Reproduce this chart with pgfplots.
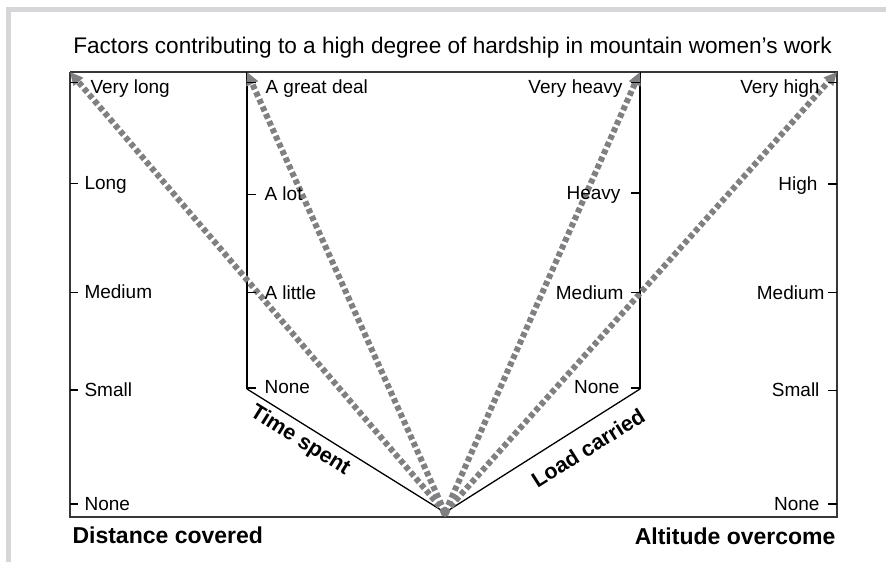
\documentclass[border=0pt]{standalone}
\usepackage{pgfplots}
\pgfplotsset{compat=1.18}
\usepackage{fontspec}
\setmainfont{Liberation Sans}
\usetikzlibrary{arrows.meta}
\definecolor{arrowgray}{RGB}{128,128,130}
\definecolor{framegray}{RGB}{214,214,216}
\definecolor{boxgray}{RGB}{55,55,55}
\begin{document}
\begin{tikzpicture}
\useasboundingbox (0,0) rectangle (886pt,565pt);
\begin{axis}[
  at={(0,0)}, anchor=south west,
  scale only axis, width=886pt, height=565pt,
  xmin=0, xmax=886, ymin=0, ymax=565, y dir=reverse,
  hide axis, clip=false,
  every node/.style={inner sep=0pt, outer sep=0pt},
]
% light frame
\addplot[framegray, line width=5pt, line join=miter] coordinates {(8.5,562) (8.5,9.5) (886,9.5)};
% outer box
\addplot[boxgray, line width=1.8pt, line join=miter] coordinates {(70,72) (837,72) (837,517) (70,517) (70,72)};
% inner axes
\addplot[black, line width=2.5pt] coordinates {(247,72) (247,389)};
\addplot[black, line width=2.5pt] coordinates {(640,72) (640,389)};
% slanted lines
\addplot[black, line width=1.3pt] coordinates {(247,389) (445,512.5) (640,389)};
% ticks
\addplot[only marks, mark=-, mark size=3.8pt, mark options={line width=1.9pt, black}] coordinates {(73.8,82.5) (73.8,183.5) (73.8,292.5) (73.8,390) (73.8,504)};
\addplot[only marks, mark=-, mark size=4.5pt, mark options={line width=1.9pt, black}] coordinates {(251.5,82.5) (251.5,194.5) (251.5,292.5) (251.5,388)};
\addplot[only marks, mark=-, mark size=4.5pt, mark options={line width=1.9pt, black}] coordinates {(635.5,82.5) (635.5,193) (635.5,292.5) (635.5,388)};
\addplot[only marks, mark=-, mark size=4.5pt, mark options={line width=1.9pt, black}] coordinates {(832.5,82.5) (832.5,184) (832.5,292.5) (832.5,390.5) (832.5,504)};
% dashed arrows
\addplot[arrowgray, line width=6pt, dash pattern=on 5pt off 3pt, -{Triangle[length=13pt,width=12pt]}] coordinates {(445,512.5) (70,72)};
\addplot[arrowgray, line width=6pt, dash pattern=on 5pt off 3pt, -{Triangle[length=13pt,width=12pt]}] coordinates {(445,512.5) (247,72)};
\addplot[arrowgray, line width=6pt, dash pattern=on 5pt off 3pt, -{Triangle[length=13pt,width=12pt]}] coordinates {(445,512.5) (640,72)};
\addplot[arrowgray, line width=6pt, dash pattern=on 5pt off 3pt, -{Triangle[length=13pt,width=12pt]}] coordinates {(445,512.5) (837,72)};
\addplot[only marks, mark=*, mark size=4.5pt, arrowgray] coordinates {(445,512)};
% title
\node[font=\fontsize{22.6}{27}\selectfont, anchor=base] at (axis cs:452.5,53) {Factors contributing to a high degree of hardship in mountain women’s work};
\begin{scope}[font=\fontsize{19}{22}\selectfont]
% Distance covered labels
\node[anchor=base west] at (axis cs:87,93) {Very long};
\node[anchor=base west] at (axis cs:81,189.5) {Long};
\node[anchor=base west] at (axis cs:81,298.5) {Medium};
\node[anchor=base west] at (axis cs:81,396) {Small};
\node[anchor=base west] at (axis cs:81,510) {None};
% Time spent labels
\node[anchor=base west] at (axis cs:262,93) {A great deal};
\node[anchor=base west] at (axis cs:261,200) {A lot};
\node[anchor=base west] at (axis cs:261,299) {A little};
\node[anchor=base west] at (axis cs:261,393) {None};
% Load carried labels
\node[anchor=base east] at (axis cs:626,93) {Very heavy};
\node[anchor=base east] at (axis cs:624,199) {Heavy};
\node[anchor=base east] at (axis cs:627,299) {Medium};
\node[anchor=base east] at (axis cs:623,393) {None};
% Altitude labels
\node[anchor=base east] at (axis cs:823,93) {Very high};
\node[anchor=base east] at (axis cs:821,190) {High};
\node[anchor=base east] at (axis cs:828,299) {Medium};
\node[anchor=base east] at (axis cs:823,396) {Small};
\node[anchor=base east] at (axis cs:823,510) {None};
\end{scope}
% axis names
\node[font=\fontsize{23}{27}\selectfont\bfseries, anchor=base west] at (axis cs:69,543) {Distance covered};
\node[font=\fontsize{23}{27}\selectfont\bfseries, anchor=base east] at (axis cs:839,544) {Altitude overcome};
\node[font=\fontsize{21.5}{25}\selectfont\bfseries, rotate=-32] at (axis cs:300,441) {Time spent};
\node[font=\fontsize{21.5}{25}\selectfont\bfseries, rotate=32.3] at (axis cs:588,448) {Load carried};
\end{axis}
\end{tikzpicture}
\end{document}
